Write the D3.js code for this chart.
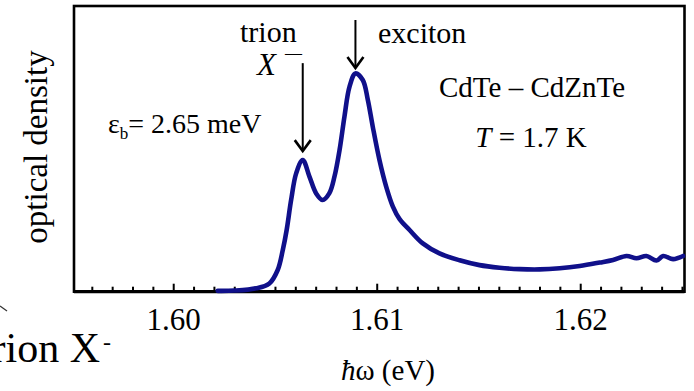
<!DOCTYPE html>
<html>
<head>
<meta charset="utf-8">
<script src="https://cdn.jsdelivr.net/npm/d3@7"></script>
<style>
  html, body { margin: 0; padding: 0; background: #ffffff; }
  svg { display: block; }
  text { font-family: "Liberation Serif", "Times New Roman", serif; fill: #000; }
</style>
</head>
<body>
<svg id="chart" width="694" height="391"></svg>
<script>
// Absorption spectrum of a CdTe/CdZnTe quantum well at 1.7 K
const energy = [
  1.60216, 1.60298, 1.60405, 1.60470, 1.60511, 1.60536, 1.60555, 1.60577,
  1.60602, 1.60634, 1.60667, 1.60700, 1.60732, 1.60765, 1.60790, 1.60815,
  1.60839, 1.60864, 1.60893, 1.60929, 1.60954, 1.60978, 1.61011, 1.61044,
  1.61077, 1.61110, 1.61159, 1.61224, 1.61306, 1.61405, 1.61503, 1.61601,
  1.61700, 1.61798, 1.61897, 1.61995, 1.62093, 1.62159, 1.62225, 1.62274,
  1.62323, 1.62372, 1.62405, 1.62454, 1.62503
];
const density = [
  0.003, 0.004, 0.012, 0.029, 0.076, 0.146, 0.216, 0.321,
  0.415, 0.461, 0.403, 0.344, 0.321, 0.345, 0.403, 0.496,
  0.613, 0.718, 0.764, 0.741, 0.671, 0.578, 0.461, 0.368,
  0.298, 0.254, 0.216, 0.169, 0.134, 0.110, 0.093, 0.084,
  0.079, 0.078, 0.082, 0.090, 0.102, 0.111, 0.125, 0.117,
  0.125, 0.109, 0.125, 0.114, 0.125
];

// Axis ticks
const majorTicks = [1.60, 1.61, 1.62];
const tickLabels = ["1.60", "1.61", "1.62"];
const minorTicks = d3.range(1596, 1626).map(v => v / 1000);

// Arrows marking the two absorption lines: [energy, top, tip] in density units
const arrowEnergy = [1.60634, 1.60893];
const arrowTop = [0.800, 0.951];
const arrowTip = [0.492, 0.783];

const serif = "'Liberation Serif', 'Times New Roman', serif";
const svg = d3.select("#chart");

const plot = { left: 74, right: 684.5, top: 6, bottom: 291.7 };
const x = d3.scaleLinear().domain([1.5951, 1.6251]).range([plot.left, plot.right]);
const y = d3.scaleLinear().domain([0, 1]).range([plot.bottom, plot.top]);

// Frame
svg.append("rect")
  .attr("x", plot.left).attr("y", plot.top)
  .attr("width", plot.right - plot.left).attr("height", plot.bottom - plot.top)
  .attr("fill", "none").attr("stroke", "#000").attr("stroke-width", 2.6);

// Ticks pointing inward from the bottom axis
const gx = svg.append("g");
gx.selectAll("line.minor").data(minorTicks).join("line")
  .attr("class", "minor")
  .attr("x1", d => x(d)).attr("x2", d => x(d))
  .attr("y1", plot.bottom).attr("y2", d => plot.bottom - (majorTicks.some(m => Math.abs(m - d) < 1e-6) ? 8 : 5))
  .attr("stroke", "#000").attr("stroke-width", 2);
svg.append("line")
  .attr("x1", plot.left).attr("x2", plot.right)
  .attr("y1", plot.bottom).attr("y2", plot.bottom)
  .attr("stroke", "#000").attr("stroke-width", 3.2);

gx.selectAll("text.tick").data(majorTicks).join("text")
  .attr("class", "tick")
  .attr("x", d => x(d)).attr("y", 330)
  .attr("text-anchor", "middle")
  .attr("font-family", serif)
  .attr("font-size", 31)
  .text((d, i) => tickLabels[i]);

// Spectrum
const pts = energy.map((e, i) => [e, density[i]]);
const line = d3.line().x(d => x(d[0])).y(d => y(d[1])).curve(d3.curveCatmullRom.alpha(0.5));
svg.append("path")
  .datum(pts)
  .attr("d", line)
  .attr("fill", "none")
  .attr("stroke", "#10108a")
  .attr("stroke-width", 4.6)
  .attr("stroke-linejoin", "round")
  .attr("stroke-linecap", "round");

// Arrows
arrowEnergy.forEach((e, i) => {
  const ax = x(e), y0 = y(arrowTop[i]), y1 = y(arrowTip[i]);
  svg.append("line")
    .attr("x1", ax).attr("x2", ax).attr("y1", y0).attr("y2", y1)
    .attr("stroke", "#000").attr("stroke-width", 2);
  svg.append("path")
    .attr("d", `M${ax - 8},${y1 - 11} L${ax},${y1} L${ax + 8},${y1 - 11}`)
    .attr("fill", "none").attr("stroke", "#000").attr("stroke-width", 2.6);
});

function label(xp, yp, size) {
  return svg.append("text").attr("x", xp).attr("y", yp)
    .attr("font-family", serif).attr("font-size", size);
}

// Axis titles
svg.append("text")
  .attr("transform", "translate(47,147) rotate(-90)")
  .attr("text-anchor", "middle")
  .attr("font-family", serif)
  .attr("font-size", 33)
  .text("optical density");

const xl = label(388, 380, 29).attr("text-anchor", "middle");
xl.append("tspan").attr("font-style", "italic").text("ħ");
xl.append("tspan").text("ω (eV)");

// Annotations
label(240, 42, 30).text("trion");
label(257, 75, 31).attr("font-style", "italic").text("X");
label(285, 58, 17).text("—");
label(378, 43, 30).text("exciton");

const eb = label(108, 133, 28);
eb.append("tspan").text("ε");
eb.append("tspan").attr("font-size", 17).attr("dy", 6).text("b");
eb.append("tspan").attr("dy", -6).text("= 2.65 meV");

label(532, 97, 29).attr("text-anchor", "middle").text("CdTe – CdZnTe");
const tt = label(531, 147, 29).attr("text-anchor", "middle");
tt.append("tspan").attr("font-style", "italic").text("T");
tt.append("tspan").text(" = 1.7 K");

// Caption fragment at the lower left
label(100, 362, 42).attr("text-anchor", "end").text("trion X");
label(103, 350, 24).text("-");
svg.append("path").attr("d", "M0,306 L7,311").attr("stroke", "#333").attr("stroke-width", 1.2);
</script>
</body>
</html>
